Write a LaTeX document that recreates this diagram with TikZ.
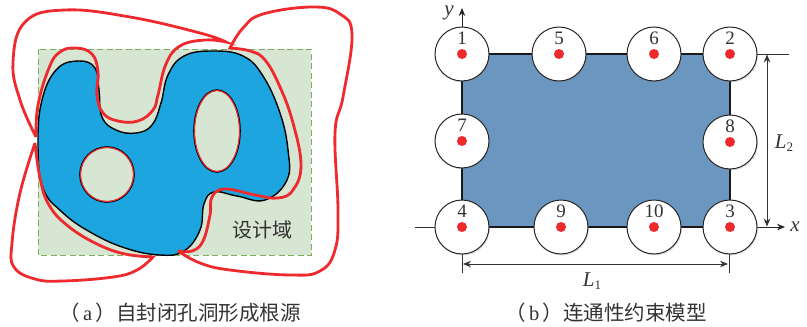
\documentclass[tikz,border=0pt]{standalone}
\usepackage{fontspec}
\setmainfont{Liberation Serif}
\newfontfamily\cjk{Noto Sans CJK SC}
\usetikzlibrary{arrows.meta,shadows}
\definecolor{domgreen}{HTML}{D6E6D2}
\definecolor{dashgreen}{HTML}{7DAE5E}
\definecolor{partblue}{HTML}{1CA5DF}
\definecolor{curvered}{HTML}{EE2A2E}
\definecolor{plateblue}{HTML}{6B96BF}
\definecolor{inkgray}{HTML}{333333}
\tikzset{
  x=1pt,y=-1pt,
  outline/.style={draw=black,line width=1.4pt},
  redline/.style={draw=curvered,line width=2.8pt,line join=miter,miter limit=20},
  holefill/.style={fill=domgreen,draw=black,line width=1.6pt},
  holered/.style={draw=curvered,line width=1.1pt},
  pincircle/.style={circle,draw=black!85,line width=1pt,fill=white,minimum size=54pt,inner sep=0pt,
    drop shadow={opacity=.22,shadow xshift=1pt,shadow yshift=-1.5pt}},
  pinnum/.style={inner sep=0pt,text=inkgray,font=\fontsize{19}{19}\selectfont},
  pindot/.style={circle,fill=curvered,draw=none,minimum size=10pt,inner sep=0pt},
  plateedge/.style={draw=black!90,line width=2.4pt},
  thinline/.style={draw=black!80,line width=.8pt},
  dimline/.style={draw=black!80,line width=.9pt,{Stealth[length=8pt,width=6.5pt]}-{Stealth[length=8pt,width=6.5pt]}},
  axisline/.style={draw=black!85,line width=.9pt,-{Stealth[length=8pt,width=6.5pt]}},
  mathlabel/.style={inner sep=0pt,text=inkgray,font=\fontsize{21}{21}\selectfont},
  caption/.style={inner sep=0pt,text=inkgray,font=\cjk\fontsize{20.5}{21}\selectfont},
}
\begin{document}
\begin{tikzpicture}
\useasboundingbox (0,0) rectangle (807,327);
% panel (a)
\path[fill=domgreen,draw=dashgreen,line width=1pt,dash pattern=on 6pt off 3.5pt] (38,49) rectangle (311,255);
\path[fill=partblue,outline] plot[smooth cycle,tension=.7] coordinates {
 (38,145) (42,100) (57,69) (79,61) (95,68) (99,90) (102,117) (116,130) (136,133) (152,125) (161,103)
 (168,75) (184,56) (213,51) (243,56) (263,76) (280,113) (288,150) (287,180) (265,200) (237,196)
 (214,192) (204,204) (200,230) (184,251) (160,255) (125,248) (90,232)
 (62,212) (43,188)};
\path[holefill] (107,174.5) ellipse [x radius=27,y radius=27.5];
\path[holefill] (217,131) ellipse [x radius=23,y radius=41];
\path[holered] (107,174.5) ellipse [x radius=26.5,y radius=27];
\path[holered] (217,131) ellipse [x radius=22.5,y radius=40.5];
\draw[redline] plot[smooth,tension=.7] coordinates {(36,137) (20,100) (13,62) (25,22) (65,10) (130,17) (200,33) (226,42)}
 -- plot[smooth,tension=.7] coordinates {(226,42) (205,40) (180,46) (166,64) (158,95) (153,110) (138,121) (118,121) (103,113) (97,95) (98,72) (92,54) (76,48) (60,52) (49,68) (38,105) (36,137)};
\draw[redline] plot[smooth,tension=.7] coordinates {(35,143) (20,193) (12,243) (14,267) (35,279) (63,281) (113,277) (137,270) (153,257)}
 -- plot[smooth,tension=.7] coordinates {(153,257) (125,254) (97,244) (68,226) (49,205) (40,178) (35,143)};
\draw[redline] plot[smooth,tension=.7] coordinates {(178,251) (200,263) (230,270) (290,275) (320,271) (335,250) (338,210) (335,133) (343,97) (352,35) (340,14) (313,7) (263,14) (243,28) (230,48)}
 -- plot[smooth,tension=.7] coordinates {(230,48) (250,51) (265,60) (280,87) (293,123) (301,165) (293,190) (278,198) (255,195) (225,189) (212,197) (210,215) (203,241) (192,251) (178,251)};
\node[inner sep=0pt,text=inkgray,font=\cjk\fontsize{20}{20}\selectfont] (domain) at (262.5,230) {设计域};
\node[caption] (capa) at (180,313) {（\,{\rmfamily a}\,）自封闭孔洞形成根源};
% panel (b)
\coordinate (c1) at (462,54);
\coordinate (c2) at (730,54);
\coordinate (c3) at (730,227);
\coordinate (c4) at (462,227);
\path[fill=plateblue] (c1) rectangle (c3);
\draw[plateedge] (c1) rectangle (c3);
\draw[axisline] (462,30) -- (462,8);
\draw[axisline] (750,227) -- (785,227);
\draw[thinline] (415,227) -- (440,227);
\draw[thinline] (750,54) -- (789,54);
\draw[thinline] (462,250) -- (462,273);
\draw[thinline] (729,250) -- (729,273);
\foreach \nm/\px/\py in {1/462/54,5/559/54,6/654/54,2/730/54,7/462/141,8/730/142,4/462/227,9/561/227,10/654/227,3/730/227}{
  \node[pincircle] (n\nm) at (\px,\py) {};
  \node[pindot] (d\nm) at (\px,\py) {};
  \node[pinnum] (t\nm) at (\px,\py-15.5) {\nm};
}
\coordinate (l2a) at (767,54.5);
\coordinate (l2b) at (767,226.5);
\coordinate (l1a) at (463,264);
\coordinate (l1b) at (728,264);
\draw[dimline] (l2a) -- (l2b);
\draw[dimline] (l1a) -- (l1b);
\node[mathlabel] (lx) at (795,227) {\textit{x}};
\node[mathlabel] (ly) at (449,13) {\textit{y}};
\node[mathlabel] (lone) at (592,281) {\textit{L}\raisebox{-3pt}{\fontsize{13}{13}\selectfont 1}};
\node[mathlabel] (ltwo) at (784,143) {\textit{L}\raisebox{-3pt}{\fontsize{13}{13}\selectfont 2}};
\node[caption] (capb) at (606,313) {（\,{\rmfamily b}\,）连通性约束模型};
\end{tikzpicture}
\end{document}
